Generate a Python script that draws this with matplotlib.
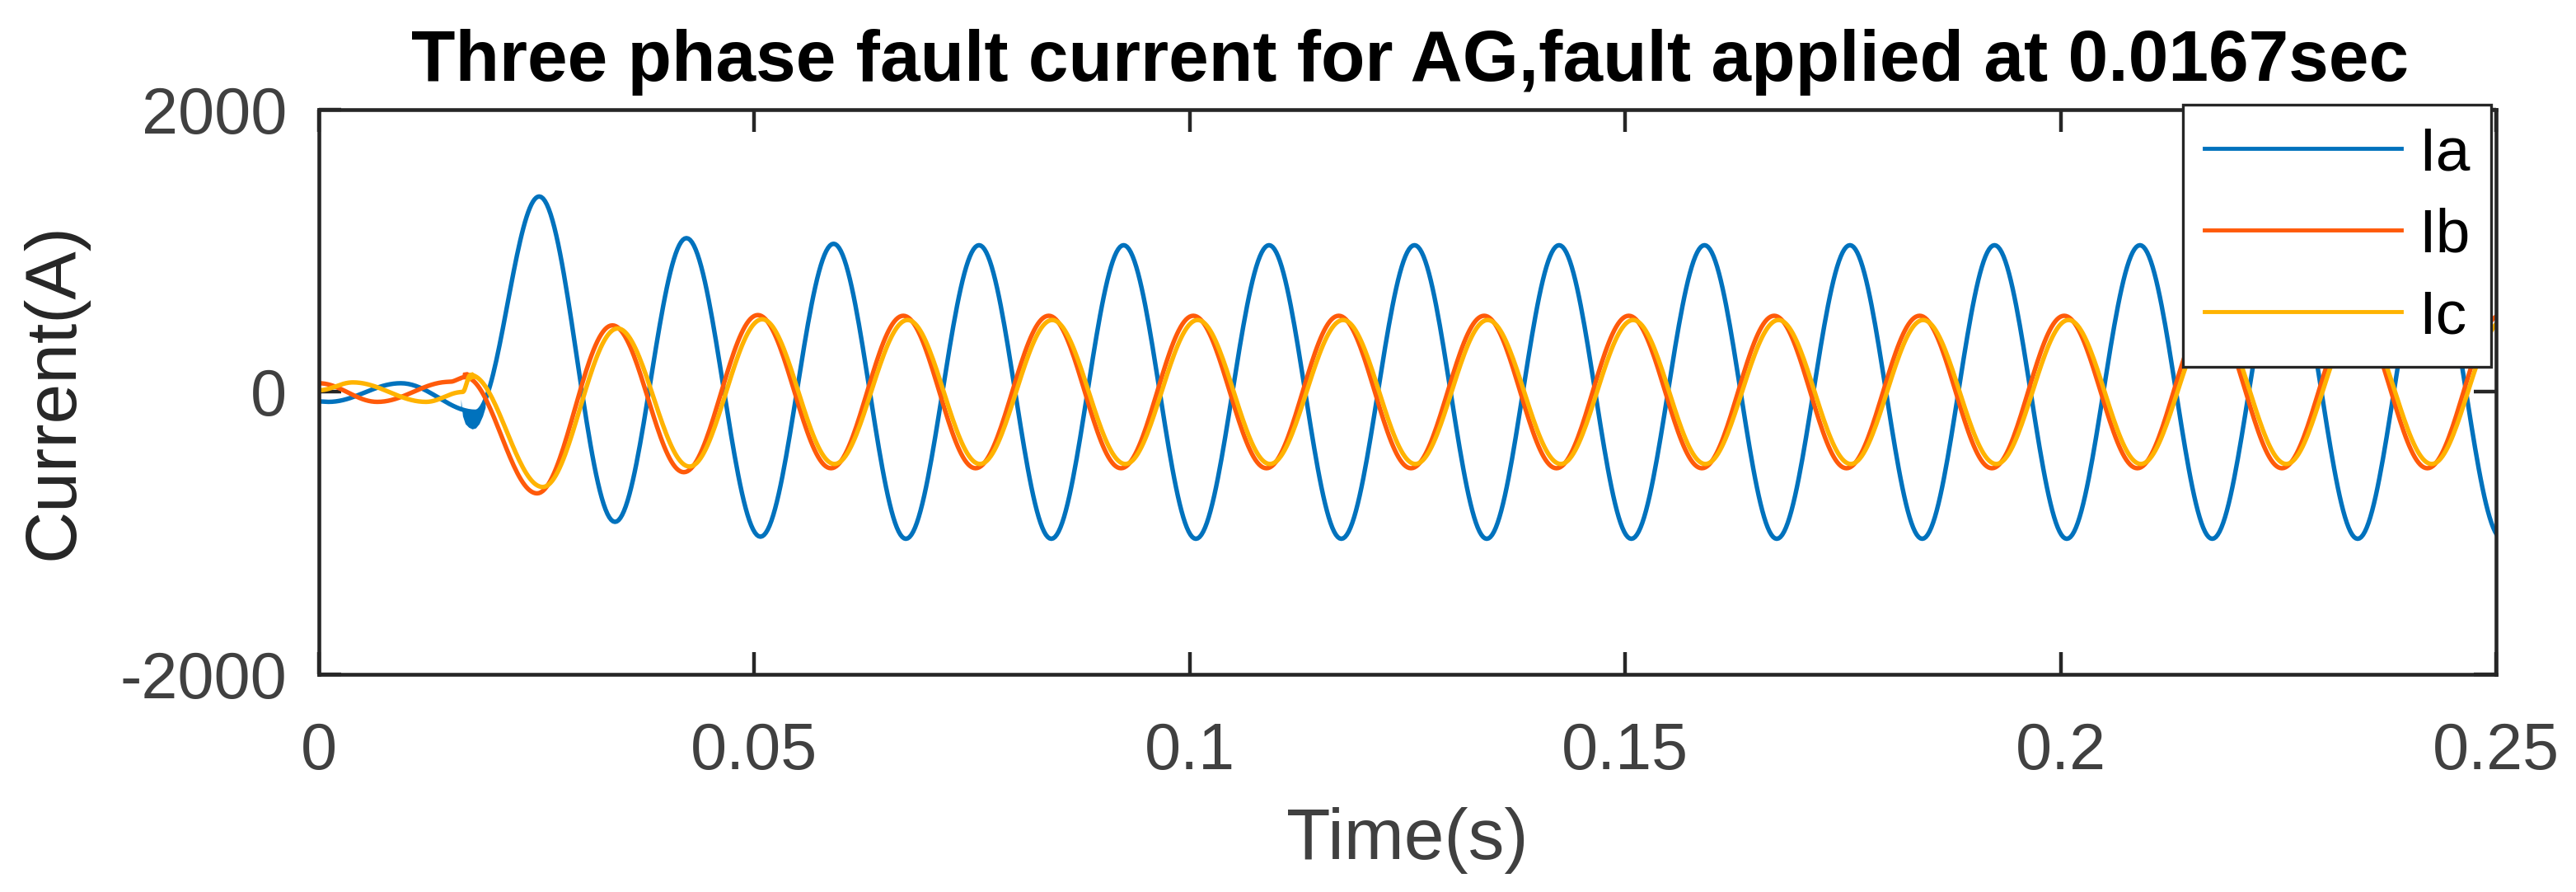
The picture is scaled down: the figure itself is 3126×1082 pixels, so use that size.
import numpy as np
import matplotlib
matplotlib.use("Agg")
import matplotlib.pyplot as plt

# extrema of each phase current (time in s, current in A)
ia_t = [0.0, 0.0011, 0.0094, 0.0180, 0.0253, 0.0340, 0.0422, 0.0507, 0.0591,
        0.0674, 0.0758, 0.0841, 0.0924, 0.1007, 0.1091, 0.1174, 0.1258, 0.1341,
        0.1424, 0.1507, 0.1591, 0.1674, 0.1758, 0.1841, 0.1924, 0.2007, 0.2091,
        0.2174, 0.2258, 0.2341, 0.2424, 0.2507]
ia_v = [-67, -70, 62, -140, 1385, -920, 1090, -1025, 1050,
        -1040, 1040, -1040, 1040, -1040, 1040, -1040, 1040, -1040,
        1040, -1040, 1040, -1040, 1040, -1040, 1040, -1040, 1040,
        -1040, 1040, -1040, 1040, -1040]

ib_t = [0.0, 0.0067, 0.0150, 0.0168, 0.02505, 0.0337, 0.0419, 0.0504, 0.0588,
        0.0671, 0.0754, 0.0838, 0.0921, 0.1004, 0.1088, 0.1171, 0.1254, 0.1338,
        0.1421, 0.1504, 0.1588, 0.1671, 0.1754, 0.1838, 0.1921, 0.2004, 0.2088,
        0.2171, 0.2254, 0.2338, 0.2421, 0.2504]
ib_v = [62, -70, 72, 105, -718, 472, -568, 545, -540,
        540, -540, 540, -540, 540, -540, 540, -540, 540,
        -540, 540, -540, 540, -540, 540, -540, 540, -540,
        540, -540, 540, -540, 540]

ic_t = [0.0, 0.0039, 0.0123, 0.0165, 0.0174, 0.0257, 0.0343, 0.04255, 0.0509,
        0.0592, 0.0676, 0.0759, 0.0842, 0.0926, 0.1009, 0.1092, 0.1176, 0.1259,
        0.1342, 0.1426, 0.1509, 0.1592, 0.1676, 0.1759, 0.1842, 0.1926, 0.2009,
        0.2092, 0.2176, 0.2259, 0.2342, 0.2426, 0.2509]
ic_v = [12, 68, -70, 0, 120, -673, 450, -528, 515,
        -510, 510, -510, 510, -510, 510, -510, 510, -510,
        510, -510, 510, -510, 510, -510, 510, -510, 510,
        -510, 510, -510, 510, -510, 510]

# high frequency ringing right after the fault (drawn as filled bands)
ring_a_t = [0.0163, 0.0165, 0.0168, 0.0172, 0.0176, 0.0180, 0.0184, 0.0188, 0.0191]
ring_a_lo = [-50, -170, -225, -250, -262, -255, -225, -170, -110]
ring_b_t = [0.0163, 0.0165, 0.0170, 0.0175, 0.0178]
ring_b_hi = [75, 140, 145, 130, 100]
ring_c_t = [0.0164, 0.0168, 0.0172, 0.0176, 0.0180, 0.0184]
ring_c_dv = [0, 25, 30, 25, 15, 0]

names = ['Ia', 'Ib', 'Ic']
colors = ['#0072BD', '#FF5A0A', '#FFB300']
xticks = [0, 0.05, 0.1, 0.15, 0.2, 0.25]
xlabels = ['0', '0.05', '0.1', '0.15', '0.2', '0.25']
yticks = [-2000, 0, 2000]
ylabels = ['-2000', '0', '2000']


def wave(tp, vp, n=40):
    # half-cosine between consecutive extrema
    ts, vs = [], []
    for k in range(len(tp) - 1):
        s = np.linspace(0, 1, n, endpoint=False)
        ts.append(tp[k] + (tp[k + 1] - tp[k]) * s)
        vs.append(vp[k] + (vp[k + 1] - vp[k]) * (1 - np.cos(np.pi * s)) / 2)
    ts.append([tp[-1]])
    vs.append([vp[-1]])
    return np.concatenate(ts), np.concatenate(vs)


plt.rcParams['font.family'] = ['Liberation Sans', 'DejaVu Sans']
fig = plt.figure(figsize=(31.26, 10.82), dpi=100)
ax = fig.add_axes([0.1238, 0.2440, 0.8452, 0.6331])

ta, va = wave(ia_t, ia_v)
tb, vb = wave(ib_t, ib_v)
tc, vc = wave(ic_t, ic_v)

lw = 3.9
ax.fill_between(ring_a_t, np.interp(ring_a_t, ta, va), ring_a_lo, color=colors[0], lw=0, zorder=2.0)
ax.plot(ta, va, color=colors[0], lw=lw, label=names[0], zorder=2.0)
ax.fill_between(ring_b_t, np.interp(ring_b_t, tb, vb), ring_b_hi, color=colors[1], lw=0, zorder=2.1)
ax.plot(tb, vb, color=colors[1], lw=lw, label=names[1], zorder=2.1)
rc = np.interp(ring_c_t, tc, vc)
ax.fill_between(ring_c_t, rc - np.array(ring_c_dv), rc + np.array(ring_c_dv), color=colors[2], lw=0, zorder=2.2)
ax.plot(tc, vc, color=colors[2], lw=lw, label=names[2], zorder=2.2)

ax.set_xlim(0, 0.25)
ax.set_ylim(-2000, 2000)
ax.set_xticks(xticks)
ax.set_xticklabels(xlabels)
ax.set_yticks(yticks)
ax.set_yticklabels(ylabels)
ax.tick_params(direction='in', length=19.5, width=3.2, top=True, right=True,
               labelsize=57, labelcolor='#404040', color='#262626')
ax.tick_params(axis='x', pad=41)
ax.tick_params(axis='y', pad=28)
for sp in ax.spines.values():
    sp.set_linewidth(3.3)
    sp.set_color('#262626')

fig.text(0.0211, 0.561, 'Current(A)', rotation=90, ha='center', va='center',
         fontsize=63, color='#262626')
fig.text(0.5464, 0.037, 'Time(s)', ha='center', va='baseline', fontsize=63, color='#404040')
fig.text(0.5475, 0.909, 'Three phase fault current for AG,fault applied at 0.0167sec',
         ha='center', va='baseline', fontsize=63, fontweight='bold', color='black')

leg = ax.legend(loc='upper right', bbox_to_anchor=(0.967, 0.8826), bbox_transform=fig.transFigure,
                borderaxespad=0, fontsize=54, fancybox=False, framealpha=1,
                handlelength=3.19, handletextpad=0.28, labelspacing=0.40, borderpad=0.34)
leg.get_frame().set_edgecolor('#262626')
leg.get_frame().set_linewidth(2.4)
for ln in leg.get_lines():
    ln.set_linewidth(3.5)

fig.savefig('out.png', dpi=100)
